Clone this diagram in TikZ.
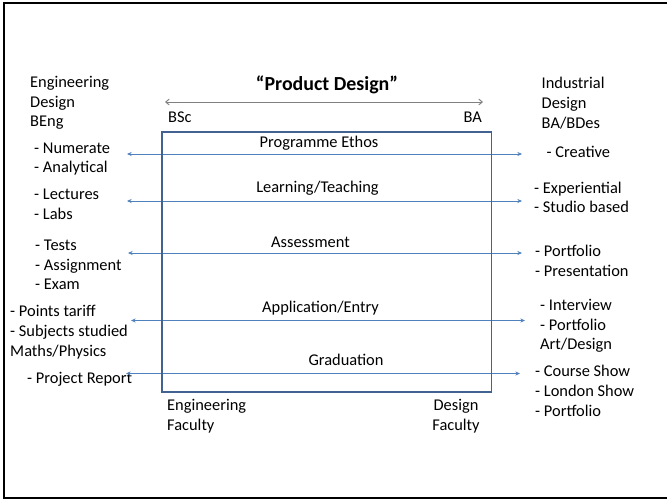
\documentclass[tikz,border=0pt]{standalone}
\usepackage{fontspec}
\setmainfont{Carlito}
\usepackage{xcolor}
\usepackage{tikz}
\usetikzlibrary{arrows.meta, calc}
\definecolor{boxblue}{RGB}{66, 98, 145}
\definecolor{linkblue}{RGB}{79, 129, 189}
\definecolor{rulegray}{RGB}{128, 128, 128}

\begin{document}
\begin{tikzpicture}[
    x=0.03cm, y=-0.03cm,
    txt/.style={inner sep=0pt, font=\fontsize{14}{16.8}\selectfont, align=left},
    lcol/.style={txt, anchor=west},
    stage/.style={txt, anchor=center},
    link/.style={draw=linkblue, line width=0.8pt,
                 {Stealth[length=4pt, width=3.5pt]}-{Stealth[length=4pt, width=3.5pt]}},
    span/.style={draw=rulegray, line width=0.8pt,
                 {Straight Barb[length=3pt, width=5pt]}-{Straight Barb[length=3pt, width=5pt]}}
]
    \useasboundingbox (0,0) rectangle (667,499);
    % outer frame
    \draw[line width=2pt] (668,3) -- (4,3) -- (4,498) -- (668,498);

    % heading and degree span
    \node[txt, font=\fontsize{17}{20}\selectfont\bfseries] (title) at (327,85) {“Product Design”};
    \coordinate (spanL) at (165,102);
    \coordinate (spanR) at (483,102);
    \draw[span] (spanL) -- (spanR);
    \node[txt, anchor=west] (bsc) at (168,117) {BSc};
    \node[txt, anchor=east] (ba) at (482,117) {BA};

    % engineering side
    \node[lcol] (eng) at (30,103) {Engineering\\Design\\BEng};
    \node[lcol] (engEthos) at (34,159) {- Numerate\\- Analytical};
    \node[lcol] (engLearn) at (34,204.5) {- Lectures\\- Labs};
    \node[lcol] (engAssess) at (35,265) {- Tests\\- Assignment\\- Exam};
    \node[lcol] (engEntry) at (10,332) {- Points tariff\\- Subjects studied\\Maths/Physics};
    \node[lcol] (engGrad) at (27,379) {- Project Report};

    % design side
    \node[lcol] (des) at (541.5,103) {Industrial\\Design\\BA/BDes};
    \node[lcol] (desEthos) at (546.5,152) {- Creative};
    \node[lcol] (desLearn) at (534,197.5) {- Experiential\\- Studio based};
    \node[lcol] (desAssess) at (535,261) {- Portfolio\\- Presentation};
    \node[lcol] (desEntry) at (540,326) {- Interview\\- Portfolio\\Art/Design};
    \node[lcol] (desGrad) at (535,391) {- Course Show\\- London Show\\- Portfolio};

    % stages through the programme
    \node[stage] (ethos) at (319,143) {Programme Ethos};
    \node[stage] (learn) at (317.5,188) {Learning/Teaching};
    \node[stage] (assess) at (310.5,242) {Assessment};
    \node[stage] (entry) at (320.5,308) {Application/Entry};
    \node[stage] (grad) at (346,360) {Graduation};

    \coordinate (ethosL) at (127,154);   \coordinate (ethosR) at (522,154);
    \coordinate (learnL) at (127,201);   \coordinate (learnR) at (522,201);
    \coordinate (assessL) at (128,253);  \coordinate (assessR) at (522,253);
    \coordinate (entryL) at (131,320.5); \coordinate (entryR) at (525,320.5);
    \coordinate (gradL) at (126,373.5);  \coordinate (gradR) at (520,373.5);
    \foreach \s in {ethos, learn, assess, entry, grad}
        \draw[link] (\s L) -- (\s R);

    % programme box
    \node[draw=boxblue, line width=1.5pt, inner sep=0pt, anchor=north west,
          minimum width=9.885cm, minimum height=7.8cm] (prog) at (161,131) {};

    \node[lcol] (engFac) at (167,416) {Engineering\\Faculty};
    \node[txt, align=center] (desFac) at (456,416) {Design\\Faculty};
\end{tikzpicture}
\end{document}
